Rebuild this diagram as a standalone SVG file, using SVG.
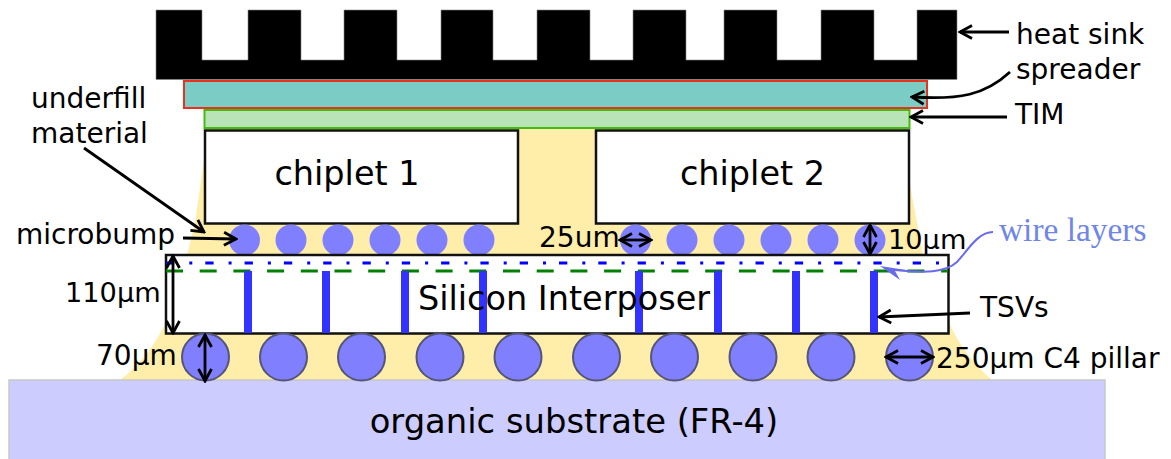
<svg xmlns="http://www.w3.org/2000/svg" width="1171" height="459" viewBox="0 0 1171 459">
<style>
text{font-family:"DejaVu Sans",sans-serif;fill:#000}
.t{font-size:28px}.u{font-size:27.200px}.b{font-size:33.500px}
.arrow{fill:none;stroke:#000;stroke-width:2.800;marker-end:url(#a)}
.two{fill:none;stroke:#000;stroke-width:2.800;marker-start:url(#s);marker-end:url(#a)}
.m{fill:#8080ff}.c{fill:#8080ff;stroke:#555577;stroke-width:2}
.tsv{fill:#3333ff}
</style>
<defs>
<marker id="a" markerUnits="userSpaceOnUse" markerWidth="16" markerHeight="18" refX="14" refY="9" orient="auto"><path d="M2 2.500L14 9L2 15.500" fill="none" stroke="#000" stroke-width="2.800"/></marker>
<marker id="s" markerUnits="userSpaceOnUse" markerWidth="16" markerHeight="18" refX="2" refY="9" orient="auto"><path d="M14 2.500L2 9L14 15.500" fill="none" stroke="#000" stroke-width="2.800"/></marker>
</defs>
<g id="underfill"><path d="M204 160L205 129H909L910 185L923 255L948 320C958 345 975 365 992 380H120C140 365 155 345 166 322L187 255L195 223Z" fill="#ffeeaa"/></g>
<g id="substrate"><rect x="9" y="380" width="1096" height="80" fill="#ccccff" stroke="#c8c8c8" stroke-width="1.500"/><text x="574" y="433" text-anchor="middle" style="font-size:33.800px">organic substrate (FR-4)</text></g>
<g id="heat-sink"><path d="M156 10H202V60H248V10H301V60H344V10H397V60H441V10H493V60H537V10H590V60H633V10H686V60H724V10H777V60H821V10H874V60H917V10H957V79.500H156Z" fill="#000" stroke="#888" stroke-width=".6"/></g>
<g id="spreader"><rect x="184" y="81" width="743" height="27" fill="#7accc4" stroke="#e8321e" stroke-width="2"/></g>
<g id="tim"><rect x="204.500" y="110" width="705" height="18" fill="#b8e4b8" stroke="#44bb11" stroke-width="2"/></g>
<g id="chiplet-1"><rect x="205" y="130.500" width="313" height="93" fill="#fff" stroke="#111" stroke-width="2.500"/><text class="b" x="347" y="185" text-anchor="middle">chiplet 1</text></g>
<g id="chiplet-2"><rect x="596" y="130.500" width="313" height="93" fill="#fff" stroke="#111" stroke-width="2.500"/><text class="b" x="752.500" y="185" text-anchor="middle">chiplet 2</text></g>
<g id="microbumps"><circle class="m" cx="244.500" cy="240" r="15.500"/><circle class="m" cx="291" cy="240" r="15.500"/><circle class="m" cx="338" cy="240" r="15.500"/><circle class="m" cx="385" cy="240" r="15.500"/><circle class="m" cx="432" cy="240" r="15.500"/><circle class="m" cx="479" cy="240" r="15.500"/><circle class="m" cx="635.500" cy="240" r="15.500"/><circle class="m" cx="682" cy="240" r="15.500"/><circle class="m" cx="729" cy="240" r="15.500"/><circle class="m" cx="776" cy="240" r="15.500"/><circle class="m" cx="823" cy="240" r="15.500"/><circle class="m" cx="870" cy="240" r="15.500"/></g>
<g id="interposer"><rect x="166" y="255" width="782.500" height="78.500" fill="#fff" stroke="#111" stroke-width="2.500"/>
<path d="M166 263H948" stroke="#0000ff" stroke-width="3" stroke-dasharray="8.300 15 3 13" fill="none"/>
<path d="M166 271H948" stroke="#008000" stroke-width="2.800" stroke-dasharray="17 16.700" fill="none"/>
<g class="tsv"><rect x="244" y="271" width="8" height="62"/><rect x="322" y="271" width="8" height="62"/><rect x="401" y="271" width="8" height="62"/><rect x="479" y="271" width="8" height="62"/><rect x="635" y="271" width="8" height="62"/><rect x="714" y="271" width="8" height="62"/><rect x="792" y="271" width="8" height="62"/><rect x="870" y="271" width="8" height="62"/></g>
<text class="b" x="564" y="310" text-anchor="middle">Silicon Interposer</text></g>
<g id="c4-pillars"><circle class="c" cx="205.500" cy="357" r="23.500"/><circle class="c" cx="283.500" cy="357" r="23.500"/><circle class="c" cx="361.500" cy="357" r="23.500"/><circle class="c" cx="440" cy="357" r="23.500"/><circle class="c" cx="518" cy="357" r="23.500"/><circle class="c" cx="596.500" cy="357" r="23.500"/><circle class="c" cx="674.500" cy="357" r="23.500"/><circle class="c" cx="753" cy="357" r="23.500"/><circle class="c" cx="831" cy="357" r="23.500"/><circle class="c" cx="909.500" cy="357" r="23.500"/></g>
<g id="connectors">
<path class="arrow" d="M1009 32H960"/>
<path class="arrow" d="M1010 72C985 95 960 100 912 97"/>
<path class="arrow" d="M1007 117H911"/>
<path class="arrow" d="M84 148L204 232"/>
<path class="arrow" d="M183 238L236 239"/>
<path class="two" d="M620 240H651"/>
<path class="two" d="M870 225V254"/>
<path class="two" d="M173 256V333"/>
<path class="two" d="M205 335V381"/>
<path class="two" d="M886 357H933"/>
<path class="arrow" d="M970 313L879 317"/>
<path d="M993 232C978 232 968 250 957 262C945 273 925 273 895 270" fill="none" stroke="#6a6aea" stroke-width="2"/>
<path d="M880 266L900 280L895 271L906 270Z" fill="#6a6aea"/>
</g>
<g id="labels">
<text class="t" x="1016" y="44">heat sink</text>
<text class="t" x="1016" y="79">spreader</text>
<text class="t" x="1015" y="124">TIM</text>
<text class="t" x="31" y="108">underfill</text>
<text class="t" x="31" y="143">material</text>
<text class="t" x="16" y="244">microbump</text>
<text class="t" x="539" y="247">25um</text>
<text class="u" x="888" y="249">10μm</text>
<text x="999" y="241" style="font-family:'Liberation Serif',serif;font-size:33.400px;fill:#6f86e8">wire layers</text>
<text class="u" x="65" y="302">110μm</text>
<text class="t" x="96" y="365">70μm</text>
<text class="t" x="980" y="317">TSVs</text>
<text class="t" x="936" y="368">250μm C4 pillar</text>
</g>
</svg>
